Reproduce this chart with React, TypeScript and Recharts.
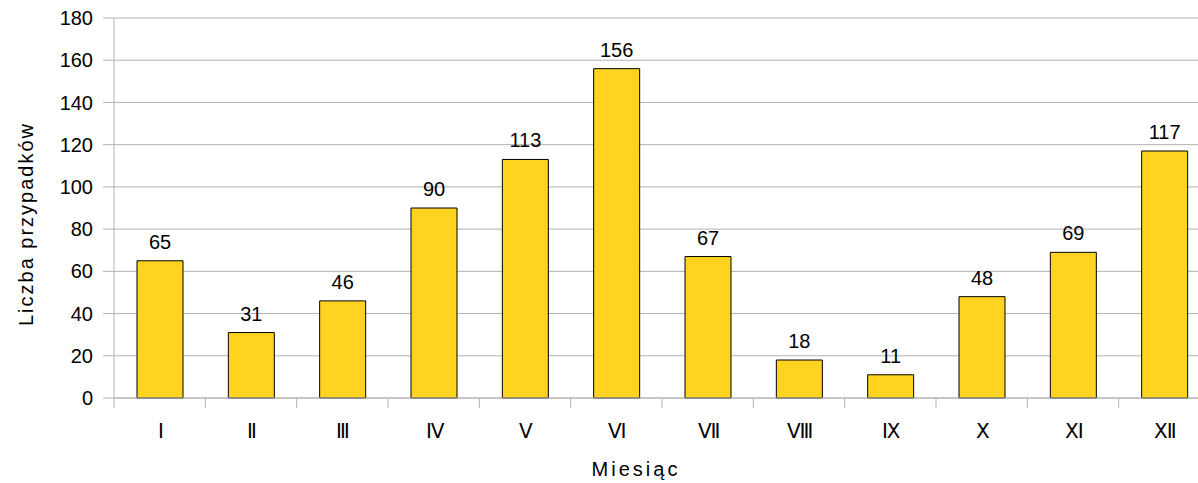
import { BarChart, Bar, XAxis, YAxis, CartesianGrid, LabelList } from 'recharts'

const months = ['Ⅰ', 'Ⅱ', 'Ⅲ', 'Ⅳ', 'Ⅴ', 'Ⅵ', 'Ⅶ', 'Ⅷ', 'Ⅸ', 'Ⅹ', 'Ⅺ', 'Ⅻ']
const cases = [65, 31, 46, 90, 113, 156, 67, 18, 11, 48, 69, 117]
const yTicks = [0, 20, 40, 60, 80, 100, 120, 140, 160, 180]

const chartData = months.map((month, i) => ({ month, cases: cases[i] }))

const FONT = '"Liberation Sans", Arial, sans-serif'
const GRID = '#b3b3b3'
const BAR_FILL = '#ffd320'

const CHART_W = 1220
const CHART_H = 483
const Y_AXIS_W = 114
const MARGIN = { top: 18, right: 10, left: 0, bottom: 0 }
const BAND = (CHART_W - Y_AXIS_W - MARGIN.left - MARGIN.right) / months.length

// category tick: divider line at the left edge of each band, label in the middle
function MonthTick(props: any) {
  const { x, y, payload } = props
  const edge = x - BAND / 2
  return (
    <g>
      <line x1={edge} y1={y} x2={edge} y2={y + 10} stroke={GRID} strokeWidth={1} />
      <text x={x + 1} y={y + 40} textAnchor="middle" fill="#000" fontSize={20} fontFamily={FONT}>
        {payload.value}
      </text>
    </g>
  )
}

function YTitle() {
  return (
    <text
      x={0}
      y={0}
      transform="translate(33, 224) rotate(-90)"
      textAnchor="middle"
      fill="#000"
      fontSize={20}
      letterSpacing={2}
      fontFamily={FONT}
    >
      Liczba przypadków
    </text>
  )
}

function XTitle() {
  return (
    <text x={636} y={476} textAnchor="middle" fill="#000" fontSize={20} letterSpacing={3} fontFamily={FONT}>
      Miesiąc
    </text>
  )
}

export default function App() {
  return (
    <div style={{ position: 'fixed', left: 0, top: 0, width: 1198, height: CHART_H, overflow: 'hidden', background: '#fff' }}>
      <BarChart width={CHART_W} height={CHART_H} data={chartData} margin={MARGIN} barCategoryGap={0}>
        <CartesianGrid horizontal vertical={false} stroke={GRID} strokeWidth={1} />
        <XAxis
          dataKey="month"
          height={CHART_H - 398}
          axisLine={{ stroke: GRID }}
          tickLine={false}
          tickSize={0}
          tickMargin={0}
          interval={0}
          tick={<MonthTick />}
          label={<XTitle />}
        />
        <YAxis
          width={Y_AXIS_W}
          domain={[0, 180]}
          ticks={yTicks}
          interval={0}
          axisLine={{ stroke: GRID }}
          tickLine={{ stroke: GRID }}
          tickSize={11}
          tickMargin={10}
          tick={{ fill: '#000', fontSize: 20, fontFamily: FONT }}
          label={<YTitle />}
        />
        <Bar dataKey="cases" fill={BAR_FILL} stroke="#000" strokeWidth={1} barSize={46} isAnimationActive={false}>
          <LabelList dataKey="cases" position="top" offset={12} fill="#000" fontSize={20} fontFamily={FONT} />
        </Bar>
      </BarChart>
    </div>
  )
}
